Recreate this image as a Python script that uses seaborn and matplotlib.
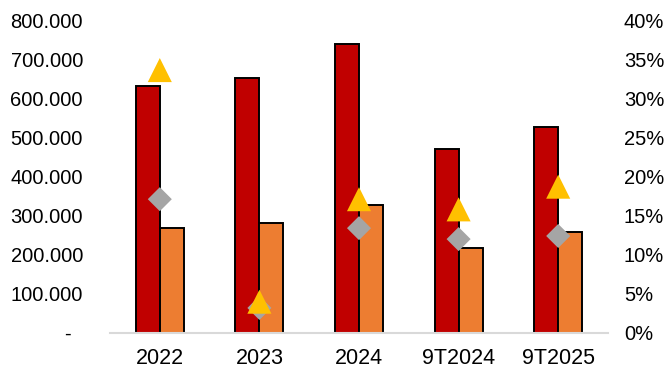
import numpy as np
import pandas as pd
import matplotlib
matplotlib.use("Agg")
import matplotlib.pyplot as plt
import seaborn as sns
from matplotlib.ticker import FuncFormatter

categories = ["2022", "2023", "2024", "9T2024", "9T2025"]
series_red = [631, 652, 739, 470, 527]        # thousand units
series_orange = [268, 281, 327, 217, 258]
pct_triangle = [33.6, 4.0, 17.1, 15.8, 18.7]  # %
pct_diamond = [17.1, 3.2, 13.4, 12.0, 12.4]   # %

left_ticks = [0, 100, 200, 300, 400, 500, 600, 700, 800]
right_ticks = [0, 5, 10, 15, 20, 25, 30, 35, 40]

sns.set_theme(style="white")
plt.rcParams["font.family"] = ["Liberation Sans", "DejaVu Sans"]

df = pd.DataFrame({
    "cat": categories * 2,
    "val": series_red + series_orange,
    "series": ["A"] * len(categories) + ["B"] * len(categories),
})

fig = plt.figure(figsize=(6.69, 3.71), dpi=100)
ax = fig.add_axes([110 / 669, 1 - 333 / 371, 498 / 669, 313 / 371])

sns.barplot(data=df, x="cat", y="val", hue="series",
            palette={"A": "#C00000", "B": "#ED7D31"},
            width=0.48, gap=0, edgecolor="black", linewidth=1.4,
            saturation=1, legend=False, ax=ax)

ax.set_ylim(0, 800)
ax.set_xlim(-0.5, len(categories) - 0.5)
ax.set_yticks(left_ticks)
ax.yaxis.set_major_formatter(FuncFormatter(
    lambda v, p: "-  " if v == 0 else f"{int(v)}.000"))
ax.set_xlabel("")
ax.set_ylabel("")
ax.tick_params(axis="y", length=0, pad=19.5, labelsize=14.5, colors="black")
ax.tick_params(axis="x", length=0, pad=11, labelsize=15.5, colors="black")
for s in ["top", "right", "left"]:
    ax.spines[s].set_visible(False)
ax.spines["bottom"].set_color("#D9D9D9")
ax.spines["bottom"].set_linewidth(1.5)

ax2 = ax.twinx()
x = np.arange(len(categories))
sns.scatterplot(x=x, y=pct_diamond, marker="D", s=150, color="#A5A5A5",
                edgecolor="none", ax=ax2, zorder=3)
sns.scatterplot(x=x, y=pct_triangle, marker="^", s=300, color="#FFC000",
                edgecolor="none", ax=ax2, zorder=4)
ax2.set_ylim(0, 40)
ax2.set_yticks(right_ticks)
ax2.yaxis.set_major_formatter(FuncFormatter(lambda v, p: f"{int(v)}%"))
ax2.tick_params(axis="y", length=0, pad=11.5, labelsize=14.5, colors="black")
ax2.set_ylabel("")
for s in ["top", "right", "left", "bottom"]:
    ax2.spines[s].set_visible(False)
ax.set_xlim(-0.5, len(categories) - 0.5)

fig.savefig("out.png", dpi=100)
